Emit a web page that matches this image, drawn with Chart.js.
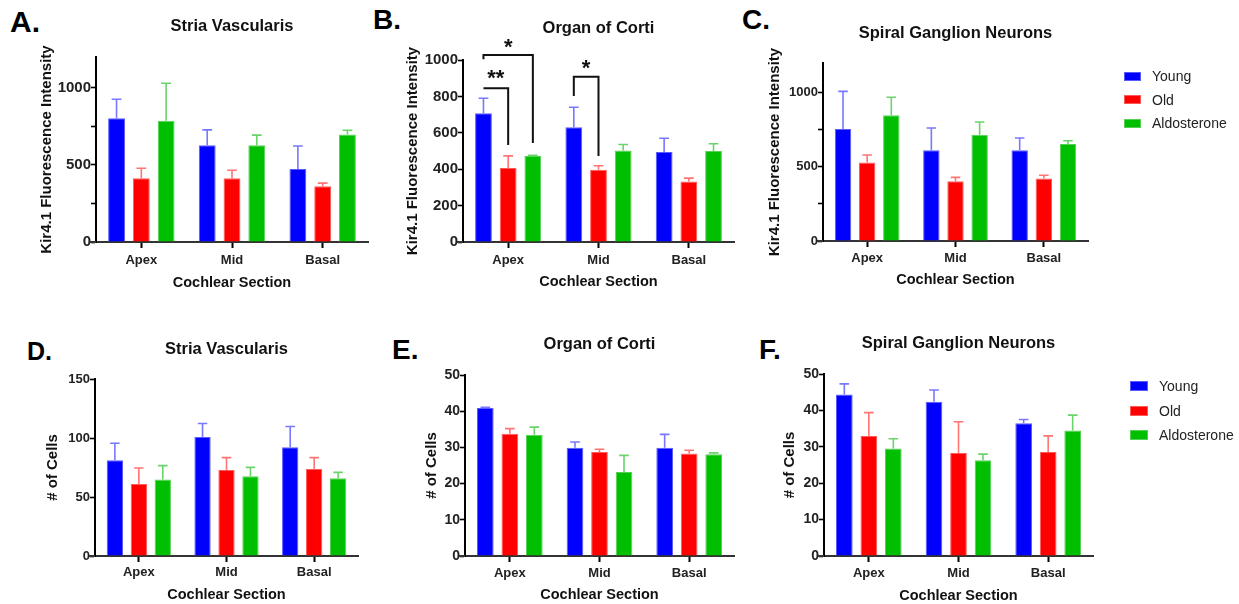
<!DOCTYPE html>
<html><head><meta charset="utf-8">
<script src="https://cdn.jsdelivr.net/npm/chart.js@4.4.1/dist/chart.umd.min.js"></script>
<style>
html,body{margin:0;padding:0;background:#fff;width:1239px;height:604px;overflow:hidden;position:relative;}
canvas{position:absolute;}
.letter{position:absolute;font-family:"Liberation Sans",Arial,sans-serif;font-weight:bold;line-height:1;color:#000;white-space:nowrap;}
.legtext{position:absolute;font-family:"Liberation Sans",Arial,sans-serif;font-size:14px;line-height:16px;color:#222;white-space:nowrap;}
.sw{position:absolute;box-sizing:border-box;}
</style></head><body>
<div class="letter" style="left:10px;top:6.6px;font-size:30px;">A.</div>
<div class="letter" style="left:373px;top:6.3px;font-size:28px;">B.</div>
<div class="letter" style="left:742px;top:6.3px;font-size:28px;">C.</div>
<div class="letter" style="left:27px;top:338.8px;font-size:25px;">D.</div>
<div class="letter" style="left:392px;top:336.3px;font-size:28px;">E.</div>
<div class="letter" style="left:759px;top:336.3px;font-size:28px;">F.</div>
<script>
// ---------- data ----------
const categories = ['Apex', 'Mid', 'Basal'];
const seriesNames = ['Young', 'Old', 'Aldosterone'];

// A. Stria Vascularis - Kir4.1 intensity (mean, upper error)
const aYoung = [803, 628, 474], aYoungErr = [926, 727, 623];
const aOld   = [413, 413, 362], aOldErr   = [478, 465, 382];
const aAldo  = [786, 628, 698], aAldoErr  = [1030, 693, 725];
// B. Organ of Corti - Kir4.1 intensity
const bYoung = [707, 631, 495], bYoungErr = [790, 740, 570];
const bOld   = [406, 397, 333], bOldErr   = [473, 419, 351];
const bAldo  = [473, 503, 500], bAldoErr  = [477, 536, 540];
// C. Spiral Ganglion Neurons - Kir4.1 intensity
const cYoung = [755, 611, 611], cYoungErr = [1009, 762, 694];
const cOld   = [530, 402, 422], cOldErr   = [580, 429, 443];
const cAldo  = [847, 717, 654], cAldoErr  = [969, 802, 676];
// D. Stria Vascularis - # of cells
const dYoung = [81.1, 100.9, 92.1], dYoungErr = [95.5, 112.3, 109.7];
const dOld   = [61.0, 72.9, 73.7],  dOldErr   = [74.6, 83.4, 83.4];
const dAldo  = [64.9, 67.5, 65.8],  dAldoErr  = [76.6, 75.1, 70.9];
// E. Organ of Corti - # of cells
const eYoung = [40.9, 29.9, 29.9], eYoungErr = [41.1, 31.5, 33.6];
const eOld   = [33.8, 28.7, 28.3], eOldErr   = [35.2, 29.5, 29.2];
const eAldo  = [33.5, 23.2, 28.1], eAldoErr  = [35.6, 27.8, 28.5];
// F. Spiral Ganglion Neurons - # of cells
const fYoung = [44.4, 42.4, 36.5], fYoungErr = [47.3, 45.6, 37.5];
const fOld   = [33.0, 28.3, 28.6], fOldErr   = [39.4, 36.9, 33.0];
const fAldo  = [29.5, 26.3, 34.5], fAldoErr  = [32.2, 28.0, 38.7];

// tick values / labelled ticks
const kirTicks = [0, 250, 500, 750, 1000], kirLabels = [0, 500, 1000];
const ocTicks = [0, 200, 400, 600, 800, 1000], ocLabels = [0, 200, 400, 600, 800, 1000];
const svCellTicks = [0, 50, 100, 150], svCellLabels = [0, 50, 100, 150];
const cellTicks = [0, 10, 20, 30, 40, 50], cellLabels = [0, 10, 20, 30, 40, 50];

// significance brackets in panel B: [category, fromSeries, toSeries, barTop, leftLegEnd, rightLegEnd, label, labelY]
const bBrackets = [
  [0, 0, 1, 845, 845, 533, '**', 921],
  [0, 0, 2, 1027, 1004, 544, '*', 1093],
  [1, 0, 1, 908, 802, 473, '*', 976]
];

// ---------- style ----------
const FONT = "'Liberation Sans', Arial, sans-serif";
const barColors = ['#0000FF', '#FF0000', '#00BE00'];
const barEdges = ['#5a5aff', '#ff5a5a', '#55d055'];
const errColors = ['#7878ff', '#ff7474', '#6ad46a'];
const AXW = 70, XH = 50;

const errorBars = {
  id: 'errorBars',
  afterDatasetsDraw(chart) {
    const ctx = chart.ctx, ys = chart.scales.y;
    chart.data.datasets.forEach((ds, i) => {
      const meta = chart.getDatasetMeta(i);
      meta.data.forEach((bar, j) => {
        const top = ys.getPixelForValue(ds.errUpper[j]);
        const w = bar.width * 0.29;
        ctx.save();
        ctx.strokeStyle = ds.errColor; ctx.lineWidth = 1.6;
        ctx.beginPath();
        ctx.moveTo(bar.x, bar.y); ctx.lineTo(bar.x, top);
        ctx.moveTo(bar.x - w, top); ctx.lineTo(bar.x + w, top);
        ctx.stroke(); ctx.restore();
      });
    });
  }
};
const axisStub = {
  id: 'axisStub',
  afterDraw(chart) {
    const {ctx, chartArea: ca} = chart;
    ctx.save(); ctx.strokeStyle = '#333'; ctx.lineWidth = 2;
    ctx.beginPath(); ctx.moveTo(ca.left - 6, ca.bottom); ctx.lineTo(ca.left, ca.bottom); ctx.stroke();
    ctx.restore();
  }
};
function bracketPlugin(list) {
  return {
    id: 'sigBrackets',
    afterDraw(chart) {
      const ctx = chart.ctx, ys = chart.scales.y;
      list.forEach(([cat, a, b, top, lEnd, rEnd, label, ly]) => {
        const x1 = chart.getDatasetMeta(a).data[cat].x;
        const x2 = chart.getDatasetMeta(b).data[cat].x;
        const yT = ys.getPixelForValue(top);
        ctx.save(); ctx.strokeStyle = '#111'; ctx.lineWidth = 2;
        ctx.beginPath();
        ctx.moveTo(x1, ys.getPixelForValue(lEnd)); ctx.lineTo(x1, yT);
        ctx.lineTo(x2, yT); ctx.lineTo(x2, ys.getPixelForValue(rEnd));
        ctx.stroke();
        ctx.fillStyle = '#111'; ctx.font = 'bold 22px ' + FONT;
        ctx.textAlign = 'center'; ctx.textBaseline = 'middle';
        ctx.fillText(label, (x1 + x2) / 2, ys.getPixelForValue(ly) + 5);
        ctx.restore();
      });
    }
  };
}

const panels = [
  {title: 'Stria Vascularis', ytitle: 'Kir4.1 Fluorescence Intensity',
   series: [[aYoung, aYoungErr], [aOld, aOldErr], [aAldo, aAldoErr]], max: 1200, ticks: kirTicks, labels: kirLabels,
   geo: {l: 96, r: 368, t: 57, b: 242, top: 0, tpt: 16.6, ytp: 12, ytf: 15, xtp: 4.2, xtitle: 0.3}},
  {title: 'Organ of Corti', ytitle: 'Kir4.1 Fluorescence Intensity',
   series: [[bYoung, bYoungErr], [bOld, bOldErr], [bAldo, bAldoErr]], max: 1000, ticks: ocTicks, labels: ocLabels, brackets: bBrackets,
   geo: {l: 463, r: 734, t: 60, b: 242, top: 0, tpt: 18.1, ytp: 11, ytf: 15, xtp: 4.2, xtitle: 1.3}},
  {title: 'Spiral Ganglion Neurons', ytitle: 'Kir4.1 Fluorescence Intensity',
   series: [[cYoung, cYoungErr], [cOld, cOldErr], [cAldo, cAldoErr]], max: 1200, ticks: kirTicks, labels: kirLabels,
   geo: {l: 823, r: 1088, t: 63, b: 241, top: 0, tpt: 23.1, ytp: 13, ytf: 13, xtp: 3.2, xtitle: 2.3},
   legend: {x: 1124, w: 17, h: 9, ys: [76, 99.5, 123], tx: 1152}},
  {title: 'Stria Vascularis', ytitle: '# of Cells',
   series: [[dYoung, dYoungErr], [dOld, dOldErr], [dAldo, dAldoErr]], max: 150, ticks: svCellTicks, labels: svCellLabels,
   geo: {l: 95, r: 358, t: 379, b: 556, top: 300, tpt: 39.1, ytp: 19, ytf: 13, xtp: 2.7, xtitle: 2.3}},
  {title: 'Organ of Corti', ytitle: '# of Cells',
   series: [[eYoung, eYoungErr], [eOld, eOldErr], [eAldo, eAldoErr]], max: 50, ticks: cellTicks, labels: cellLabels,
   geo: {l: 465, r: 734, t: 375, b: 556, top: 300, tpt: 34.1, ytp: 28, ytf: 14, xtp: 3.2, xtitle: 2.3}},
  {title: 'Spiral Ganglion Neurons', ytitle: '# of Cells',
   series: [[fYoung, fYoungErr], [fOld, fOldErr], [fAldo, fAldoErr]], max: 50, ticks: cellTicks, labels: cellLabels,
   geo: {l: 824, r: 1093, t: 374, b: 556, top: 300, tpt: 33.1, ytp: 27, ytf: 14, xtp: 3.2, xtitle: 1.3},
   legend: {x: 1130, w: 18, h: 10, ys: [386, 410.5, 435], tx: 1159}}
];

function buildPanel(p) {
  const g = p.geo;
  const W = g.r - g.l + 2 * AXW;
  const H = g.b - g.top + XH;
  const titleLH = 16.5 * 1.2;
  const tpb = g.t - g.top - g.tpt - titleLH;
  const cv = document.createElement('canvas');
  cv.width = W; cv.height = H;
  cv.style.left = (g.l - AXW) + 'px'; cv.style.top = g.top + 'px';
  cv.style.width = W + 'px'; cv.style.height = H + 'px';
  document.body.appendChild(cv);
  const plugins = [errorBars, axisStub];
  if (p.brackets) plugins.push(bracketPlugin(p.brackets));
  new Chart(cv, {
    type: 'bar',
    data: {
      labels: categories,
      datasets: p.series.map((s, i) => ({
        label: seriesNames[i], data: s[0], errUpper: s[1], errColor: errColors[i],
        backgroundColor: barColors[i], borderColor: barEdges[i], borderWidth: 1, borderSkipped: 'bottom',
        categoryPercentage: 0.82, barPercentage: 0.68, xAxisID: 'x', yAxisID: 'y'
      }))
    },
    options: {
      responsive: false, animation: false, devicePixelRatio: 1,
      layout: {padding: 0},
      plugins: {
        legend: {display: false}, tooltip: {enabled: false},
        title: {display: true, text: p.title, color: '#111',
          font: {family: FONT, size: 16.5, weight: 'bold'}, padding: {top: g.tpt, bottom: tpb}}
      },
      scales: {
        x: {
          type: 'category', offset: true,
          grid: {display: true, offset: false, drawOnChartArea: false, drawTicks: true, tickLength: 6, tickColor: '#000', tickWidth: 2},
          border: {display: true, color: '#333', width: 2},
          ticks: {font: {family: FONT, size: 13, weight: 'bold'}, color: '#222', padding: g.xtp, maxRotation: 0, autoSkip: false},
          title: {display: true, text: 'Cochlear Section', color: '#111', font: {family: FONT, size: 14.5, weight: 'bold'}, padding: {top: 0, bottom: g.xtitle}},
          afterFit: s => { s.height = XH; }
        },
        y: {
          type: 'linear', position: 'left', min: 0, max: p.max,
          afterBuildTicks: s => { s.ticks = p.ticks.map(v => ({value: v})); },
          ticks: {callback: v => p.labels.includes(v) ? String(v) : '', font: {family: FONT, size: g.ytf, weight: 'bold'}, color: '#222', padding: 0},
          grid: {display: true, drawOnChartArea: false, drawTicks: true, tickLength: 5, tickColor: '#000', tickWidth: 1.6},
          border: {display: true, color: '#000', width: 2},
          title: {display: true, text: p.ytitle, color: '#111', font: {family: FONT, size: 15, weight: 'bold'}, padding: {top: g.ytp, bottom: 0}},
          afterFit: s => { s.width = AXW; }
        },
        yR: {
          type: 'linear', position: 'right', display: true,
          grid: {display: false}, border: {display: false}, ticks: {display: false},
          afterFit: s => { s.width = AXW; }
        }
      }
    },
    plugins
  });
  if (p.legend) {
    const L = p.legend;
    seriesNames.forEach((name, i) => {
      const sw = document.createElement('div');
      sw.className = 'sw';
      sw.style.cssText = `left:${L.x}px;top:${L.ys[i] - L.h / 2}px;width:${L.w}px;height:${L.h}px;background:${barColors[i]};border:1px solid ${barEdges[i]};`;
      document.body.appendChild(sw);
      const t = document.createElement('div');
      t.className = 'legtext';
      t.style.left = L.tx + 'px'; t.style.top = (L.ys[i] - 8) + 'px';
      t.textContent = name;
      document.body.appendChild(t);
    });
  }
}
panels.forEach(buildPanel);
</script>
</body></html>
